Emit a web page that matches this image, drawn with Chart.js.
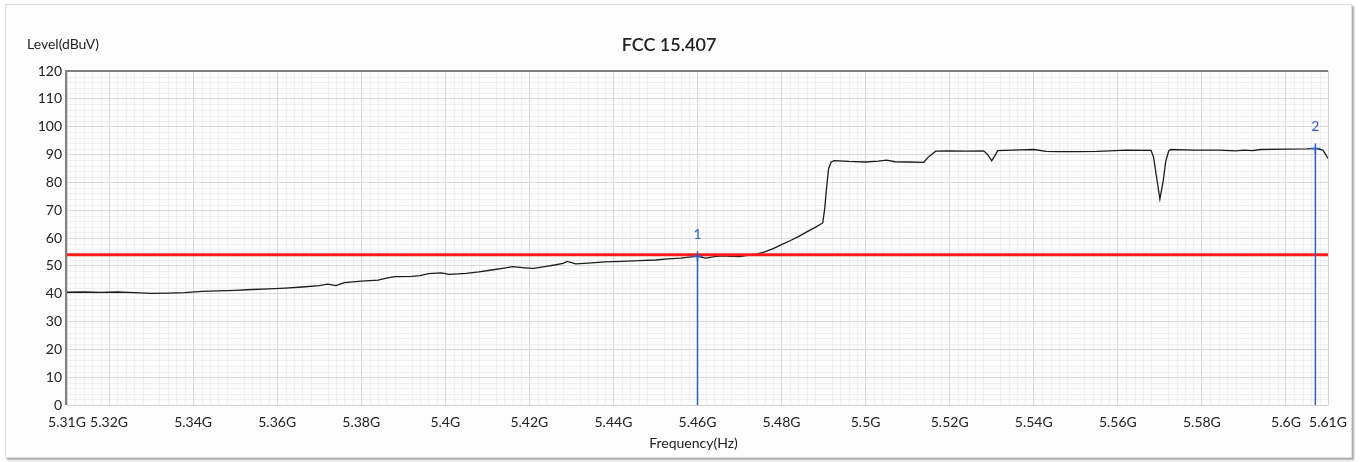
<!DOCTYPE html>
<html>
<head>
<meta charset="utf-8">
<title>FCC 15.407</title>
<script src="https://cdn.jsdelivr.net/npm/chart.js@4.4.1/dist/chart.umd.min.js"></script>
<style>
    html, body { margin: 0; padding: 0; background: #ffffff; }
    .panel {
        position: absolute; left: 5px; top: 4px; width: 1345px; height: 452px;
        border: 1px solid #dedede; background: #fdfdfd;
        box-shadow: 2px 2px 2px #a8a8a8;
    }
    .wrap { position: absolute; left: 0; top: 0; width: 1361px; height: 462px; }
</style>
</head>
<body>
<div class="panel"></div>
<div class="wrap"><canvas id="specChart" width="1361" height="462"></canvas></div>
<script>
    // Trace values (GHz / dBuV)
    const freqGHz = [
        5.310, 5.314, 5.318, 5.322, 5.326, 5.330, 5.334, 5.338, 5.342, 5.346,
        5.350, 5.354, 5.358, 5.362, 5.366, 5.370, 5.372, 5.374, 5.376, 5.380,
        5.384, 5.386, 5.388, 5.392, 5.394, 5.396, 5.399, 5.401, 5.405, 5.408,
        5.411, 5.414, 5.416, 5.419, 5.421, 5.424, 5.426, 5.428, 5.429, 5.431,
        5.434, 5.438, 5.442, 5.446, 5.450, 5.453, 5.456, 5.458, 5.460, 5.462,
        5.464, 5.466, 5.468, 5.470, 5.472, 5.474, 5.476, 5.478, 5.480, 5.482,
        5.484, 5.486, 5.488, 5.4898, 5.4903, 5.4907, 5.4912, 5.4918, 5.4925, 5.496,
        5.500, 5.503, 5.505, 5.507, 5.510, 5.5138, 5.5152, 5.5167, 5.520, 5.524,
        5.5281, 5.529, 5.530, 5.531, 5.5314, 5.535, 5.540, 5.543, 5.546, 5.550,
        5.555, 5.558, 5.562, 5.5679, 5.5685, 5.5692, 5.570, 5.5708, 5.5714, 5.5721,
        5.5726, 5.578, 5.584, 5.588, 5.590, 5.592, 5.594, 5.600, 5.605, 5.607,
        5.6088, 5.610
    ];
    const levelDbuv = [
        40.5, 40.6, 40.5, 40.6, 40.4, 40.1, 40.2, 40.4, 40.8, 41.0,
        41.2, 41.5, 41.7, 42.0, 42.4, 42.9, 43.4, 42.9, 44.0, 44.5,
        44.9, 45.6, 46.1, 46.2, 46.5, 47.2, 47.5, 46.9, 47.3, 47.8,
        48.5, 49.2, 49.7, 49.3, 49.1, 49.8, 50.3, 50.9, 51.6, 50.7,
        51.0, 51.4, 51.6, 51.9, 52.1, 52.5, 52.8, 53.1, 53.4, 52.8,
        53.3, 53.6, 53.4, 53.3, 53.8, 54.2, 55.0, 56.2, 57.6, 59.0,
        60.5, 62.2, 63.8, 65.4, 71.0, 78.0, 85.0, 87.3, 87.8, 87.5,
        87.3, 87.6, 88.0, 87.4, 87.3, 87.2, 89.5, 91.2, 91.3, 91.2,
        91.3, 90.0, 87.7, 90.2, 91.4, 91.6, 91.8, 91.1, 91.0, 91.0,
        91.1, 91.3, 91.6, 91.5, 89.0, 82.0, 74.0, 80.5, 87.5, 91.3,
        91.8, 91.6, 91.6, 91.3, 91.6, 91.4, 91.8, 91.9, 92.0, 92.2,
        91.6, 88.6
    ];

    const limitLevel = 54;
    const markerNames = ['1', '2'];
    const markerFreqs = [5.46, 5.607];
    const markerLevels = [53.4, 92.2];

    const xTickValues = [5.31, 5.32, 5.34, 5.36, 5.38, 5.4, 5.42, 5.44, 5.46, 5.48,
                         5.5, 5.52, 5.54, 5.56, 5.58, 5.6, 5.61];
    const yTickValues = [0, 10, 20, 30, 40, 50, 60, 70, 80, 90, 100, 110, 120];
    const xMin = 5.31, xMax = 5.61;

    const markerBlue = '#2f5fc4';

    Chart.defaults.font.family = 'Lato, "Open Sans", sans-serif';
    Chart.defaults.font.size = 14;
    Chart.defaults.color = '#222';

    // minor grid, frame and free texts
    const decorPlugin = {
        id: 'decor',
        beforeDraw(chart) {
            const { ctx, chartArea: a, scales: { x, y } } = chart;
            ctx.save();
            ctx.strokeStyle = '#efefef';
            ctx.lineWidth = 1;
            ctx.beginPath();
            for (let i = 0; i <= 150; i++) {
                if (i % 5 === 0) continue;
                const px = Math.round(x.getPixelForValue(xMin + i * 0.002)) + 0.5;
                ctx.moveTo(px, a.top); ctx.lineTo(px, a.bottom);
            }
            for (let j = 0; j <= 60; j++) {
                if (j % 5 === 0) continue;
                const py = Math.round(y.getPixelForValue(j * 2)) + 0.5;
                ctx.moveTo(a.left, py); ctx.lineTo(a.right, py);
            }
            ctx.stroke();
            ctx.restore();
        },
        beforeDatasetsDraw(chart) {
            const { ctx, chartArea: a } = chart;
            ctx.save();
            ctx.strokeStyle = '#d0d0d0';
            ctx.lineWidth = 1;
            ctx.beginPath();
            ctx.moveTo(a.left, a.bottom + 0.5); ctx.lineTo(a.right, a.bottom + 0.5);
            ctx.moveTo(a.right + 0.5, a.top); ctx.lineTo(a.right + 0.5, a.bottom);
            ctx.stroke();
            ctx.strokeStyle = '#808080';
            ctx.lineWidth = 2;
            ctx.beginPath();
            ctx.moveTo(a.left - 1, a.bottom); ctx.lineTo(a.left - 1, a.top);
            ctx.lineTo(a.right, a.top);
            ctx.stroke();
            ctx.restore();
        },
        afterDraw(chart) {
            const { ctx, chartArea: a, scales: { x, y } } = chart;
            ctx.save();
            ctx.fillStyle = '#222';
            ctx.textBaseline = 'middle';
            ctx.textAlign = 'center';
            ctx.font = '600 18px Lato, sans-serif';
            ctx.fillText('FCC 15.407', 669, 45);
            ctx.font = '14px Lato, sans-serif';
            ctx.fillText('Frequency(Hz)', (a.left + a.right) / 2 - 4, 443);
            ctx.textAlign = 'left';
            ctx.fillText('Level(dBuV)', 27, 44);
            // marker numbers
            ctx.fillStyle = markerBlue;
            ctx.textAlign = 'center';
            ctx.font = '14px Lato, sans-serif';
            markerFreqs.forEach((f, i) => {
                ctx.fillText(markerNames[i], x.getPixelForValue(f), y.getPixelForValue(markerLevels[i]) - 22);
            });
            ctx.restore();
        }
    };

    const markerSets = markerFreqs.map((f, i) => ({
        label: 'Marker ' + markerNames[i],
        data: [{ x: f, y: 0 }, { x: f, y: markerLevels[i] }],
        borderColor: markerBlue,
        borderWidth: 1.5,
        pointStyle: 'cross',
        pointRadius: [0, 5],
        pointBorderColor: markerBlue,
        pointBorderWidth: 1.5,
        order: 1
    }));

    const ctx = document.getElementById('specChart').getContext('2d');
    const chart = new Chart(ctx, {
        type: 'line',
        data: {
            datasets: [
                {
                    label: 'Trace',
                    data: freqGHz.map((f, i) => ({ x: f, y: levelDbuv[i] })),
                    borderColor: '#1c1c1c',
                    borderWidth: 1.3,
                    pointRadius: 0,
                    tension: 0,
                    order: 3
                },
                {
                    label: 'Limit',
                    data: [{ x: xMin, y: limitLevel }, { x: xMax, y: limitLevel }],
                    borderColor: '#ff1a1a',
                    borderWidth: 3,
                    pointRadius: 0,
                    order: 2
                },
                ...markerSets
            ]
        },
        options: {
            responsive: false,
            animation: false,
            layout: { padding: { top: 71, right: 33, bottom: 0, left: 0 } },
            plugins: {
                legend: { display: false },
                tooltip: { enabled: false },
                title: { display: false }
            },
            scales: {
                x: {
                    type: 'linear',
                    min: xMin,
                    max: xMax,
                    afterBuildTicks: (scale) => { scale.ticks = xTickValues.map(v => ({ value: v })); },
                    afterFit: (scale) => { scale.height = 57; },
                    ticks: {
                        autoSkip: false,
                        maxRotation: 0,
                        padding: 9,
                        callback: (v) => parseFloat(v.toFixed(2)) + 'G'
                    },
                    grid: { color: '#dadada', drawTicks: false },
                    border: { display: false }
                },
                y: {
                    min: 0,
                    max: 120,
                    afterBuildTicks: (scale) => { scale.ticks = yTickValues.map(v => ({ value: v })); },
                    afterFit: (scale) => { scale.width = 67; },
                    ticks: { padding: 5 },
                    grid: { color: '#dadada', drawTicks: false },
                    border: { display: false }
                }
            }
        },
        plugins: [decorPlugin]
    });
</script>
</body>
</html>
